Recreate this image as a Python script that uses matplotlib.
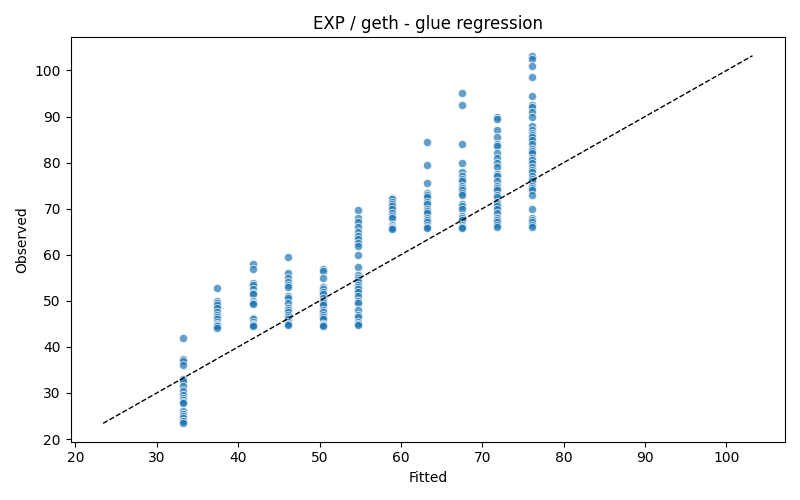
import numpy as np
import matplotlib
matplotlib.use("Agg")
import matplotlib.pyplot as plt

fitted_levels = [33.2, 37.4, 41.8, 46.1, 50.4, 54.7, 58.9, 63.2, 67.5, 71.8, 76.1]
observed_groups = [
	[42, 37.3, 37, 36, 33, 32.5, 31.5, 30.5, 29.5, 29, 28.5, 28, 27.8, 26, 25.5, 25, 24.5, 24, 23.8, 23.4],
	[52.8, 50, 49.5, 49, 48.5, 47.5, 47, 46.5, 46, 45.5, 45, 44.8, 44.5, 44.2],
	[58, 57, 53.8, 53.5, 52.5, 51.8, 51.5, 50, 49.5, 49.2, 46.3, 46, 45.5, 45, 44.8, 44.5],
	[59.5, 56, 55, 54, 53.5, 53, 51, 50.5, 49.5, 48.5, 48, 47.5, 47, 46.5, 46, 45.5, 45, 44.8],
	[57, 56.5, 55, 53, 52.5, 52, 51.5, 50.5, 50, 49.5, 49, 48, 47.5, 47, 46.5, 46, 45, 44.8, 44.5],
	[69.7, 68, 67, 66, 65, 64, 63.5, 62.5, 62, 60, 57.3, 55.5, 55, 54.5, 54, 53.5, 53, 52.5, 52, 51,
	 50, 49.5, 48, 47, 46.5, 45.5, 45, 44.8],
	[72.3, 72, 71.5, 71, 70.5, 70, 69, 68.5, 68, 66.5, 66, 65.8, 65.5],
	[84.5, 79.5, 75.5, 73.5, 73, 72.5, 71.5, 71, 70, 69.5, 69, 68, 67.5, 67, 66.5, 66, 65.8],
	[95, 92.5, 84, 80, 78, 77, 76.5, 76, 75, 74.5, 74, 73.5, 73, 71, 70.5, 70, 68.5, 68, 67.5, 66.5,
	 66, 65.8],
	[90, 89.5, 87, 85.5, 84, 83.5, 82, 81, 80, 79, 77.5, 77, 76, 75, 74.5, 74, 73, 72.5, 71.5, 71,
	 70.5, 70, 69, 68, 67.5, 67, 66.5, 66],
	[103.2, 102.5, 101, 98.5, 94.5, 92.5, 92, 91, 90, 88, 87, 86.5, 86, 85.5, 85, 84, 83, 82.5, 82, 81,
	 80.5, 80, 79, 78.5, 78, 77, 76.5, 76, 75, 74.5, 74, 73, 70, 68, 67.5, 67, 66.5, 66],
]

fitted = []
observed = []
for lvl, grp in zip(fitted_levels, observed_groups):
	fitted += [lvl] * len(grp)
	observed += grp
fitted = np.array(fitted)
observed = np.array(observed)

fig, ax = plt.subplots(figsize=(8, 5), dpi=100)
ax.scatter(fitted, observed, s=36, color='#1f77b4', alpha=0.7, edgecolor='white', linewidth=0.75)

lo = observed.min()
hi = observed.max()
ax.plot([lo, hi], [lo, hi], linestyle='--', color='black', linewidth=1)

ax.set_xlabel('Fitted')
ax.set_ylabel('Observed')
ax.set_title('EXP / geth - glue regression')
plt.tight_layout()
plt.savefig('out.png')
